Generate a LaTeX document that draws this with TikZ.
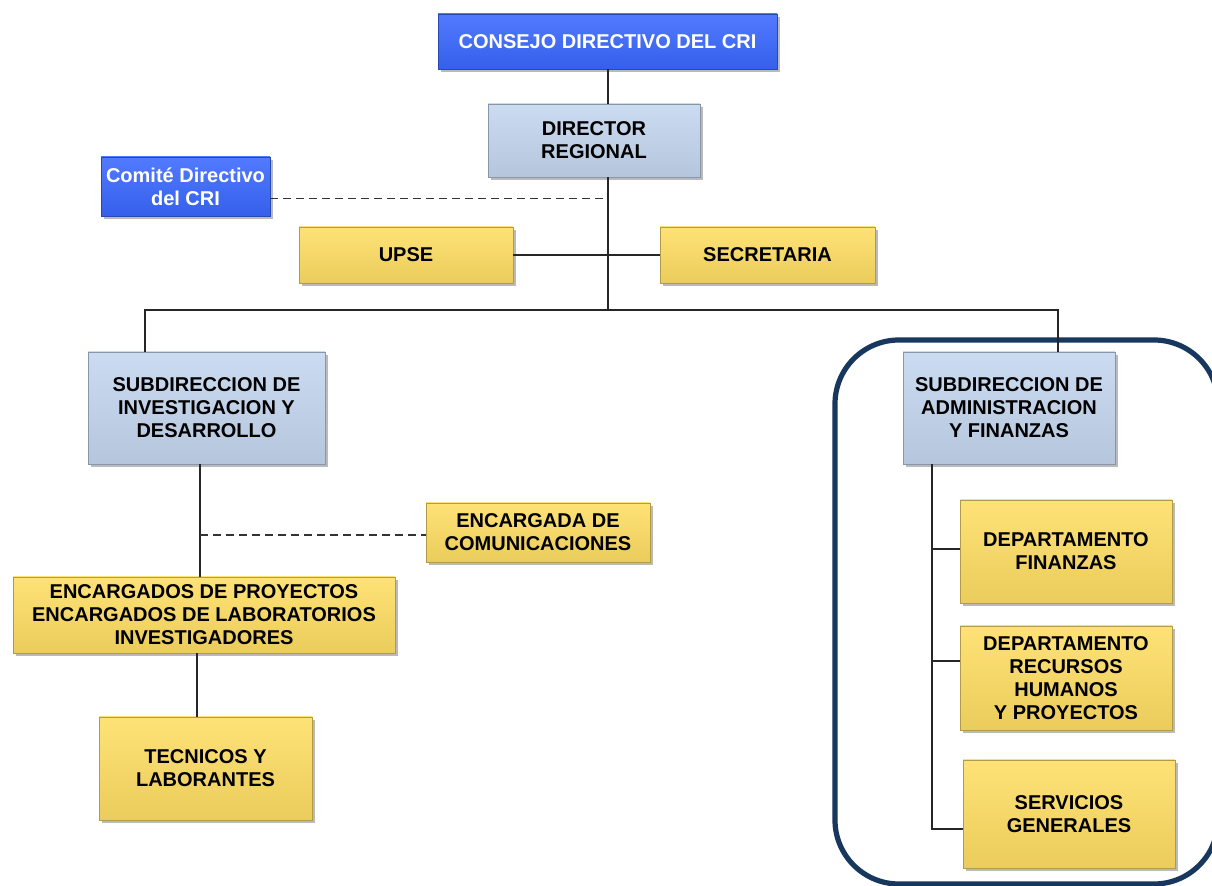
\documentclass[tikz,border=0pt]{standalone}
\usepackage{fontspec}
\setmainfont{Liberation Sans}
\usetikzlibrary{shadows}
\definecolor{azul}{RGB}{58,104,255}
\definecolor{celeste}{RGB}{196,215,240}
\definecolor{amarillo}{RGB}{255,222,100}
\definecolor{marino}{RGB}{23,55,94}
\tikzset{
  caja/.style={draw=#1!70!black, line width=0.3pt, top color=#1!88!white, bottom color=#1!92!black,
    align=center, inner sep=2pt, font=\bfseries\fontsize{10}{11.5}\selectfont,
    drop shadow={shadow xshift=1.5pt, shadow yshift=-1.5pt, fill=black!60, opacity=0.45}},
  azulbox/.style={caja=azul, text=white},
  celestebox/.style={caja=celeste},
  amarillobox/.style={caja=amarillo},
  linea/.style={line width=0.8pt, black!85},
  punteada/.style={line width=0.9pt, black!80, dash pattern=on 4pt off 2.5pt}
}
\begin{document}
\begin{tikzpicture}[x=0.5pt, y=-0.5pt]
	\useasboundingbox (0,0) rectangle (1212,886);
	\clip (0,0) rectangle (1212,886);
	\fill[white] (0,0) rectangle (1212,886);
	% marco del area administrativa
	\draw[marino, line width=2.6pt, rounded corners=32pt] (835,340) rectangle (1218,884);
	% cajas
	\node[azulbox, minimum width=169.5pt, minimum height=27.5pt] (consejo) at (607.5,41.5) {CONSEJO DIRECTIVO DEL CRI};
	\node[celestebox, minimum width=106pt, minimum height=36.5pt] (director) at (594,140.5) {DIRECTOR\\REGIONAL};
	\node[azulbox, minimum width=84.5pt, minimum height=29.5pt, inner sep=1pt] (comite) at (185.5,186.5) {Comité Directivo\\del CRI};
	\node[amarillobox, minimum width=107pt, minimum height=28pt] (upse) at (406,255) {UPSE};
	\node[amarillobox, minimum width=107.5pt, minimum height=28pt] (secretaria) at (767.5,255) {SECRETARIA};
	\node[celestebox, minimum width=118.5pt, minimum height=56pt] (subinv) at (206.5,408) {SUBDIRECCION DE\\INVESTIGACION Y\\DESARROLLO};
	\node[celestebox, minimum width=106pt, minimum height=56pt] (subadm) at (1009,408) {SUBDIRECCION DE\\ADMINISTRACION\\Y FINANZAS};
	\node[amarillobox, minimum width=112pt, minimum height=29.5pt] (comunic) at (538,532.5) {ENCARGADA DE\\COMUNICACIONES};
	\node[amarillobox, minimum width=191pt, minimum height=38pt] (encargados) at (204,615) {ENCARGADOS DE PROYECTOS\\ENCARGADOS DE LABORATORIOS\\INVESTIGADORES};
	\node[amarillobox, minimum width=106.5pt, minimum height=51.5pt] (tecnicos) at (205.5,768.5) {TECNICOS Y\\LABORANTES};
	\node[amarillobox, minimum width=106pt, minimum height=51.5pt] (depfin) at (1066,551.5) {DEPARTAMENTO\\FINANZAS};
	\node[amarillobox, minimum width=106pt, minimum height=52pt] (deprrhh) at (1066,678) {DEPARTAMENTO\\RECURSOS\\HUMANOS\\Y PROYECTOS};
	\node[amarillobox, minimum width=106pt, minimum height=54pt] (servicios) at (1069,814) {SERVICIOS\\GENERALES};
	% puntos de union
	\coordinate (tronco) at (608,310);
	\coordinate (izq) at (145,310);
	\coordinate (der) at (1058,310);
	\coordinate (eje) at (200,535);
	\coordinate (eje2) at (197,0);
	\coordinate (rama) at (932,0);
	% conectores
	\draw[linea] (consejo.south -| tronco) -- (tronco |- director.north);
	\draw[linea] (tronco |- director.south) -- (tronco);
	\draw[linea] (upse) -- (secretaria);
	\draw[linea] (izq |- subinv.north) -- (izq) -- (der) -- (der |- subadm.north);
	\draw[punteada] ([yshift=-6pt]comite.east) -- ([yshift=-6pt]tronco |- comite.east);
	\draw[linea] (eje |- subinv.south) -- (eje |- encargados.north);
	\draw[punteada] (eje) -- (eje -| comunic.west);
	\draw[linea] (eje2 |- encargados.south) -- (eje2 |- tecnicos.north);
	\draw[linea] (rama |- subadm.south) -- (932,829) -- (servicios.west |- 0,829);
	\draw[linea] (932,549) -- (depfin.west |- 0,549);
	\draw[linea] (932,661) -- (deprrhh.west |- 0,661);
\end{tikzpicture}
\end{document}
